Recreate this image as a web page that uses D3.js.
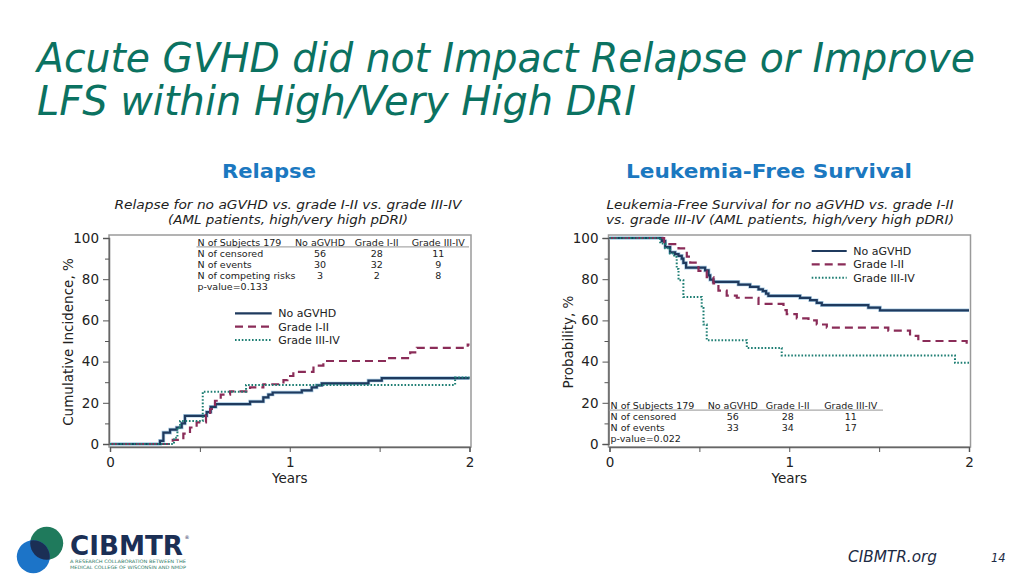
<!DOCTYPE html>
<html>
<head>
<meta charset="utf-8">
<script src="https://cdn.jsdelivr.net/npm/d3@7"></script>
<style>
body { margin: 0; background: #fff; }
text { font-family: "DejaVu Sans", Verdana, sans-serif; }
</style>
</head>
<body>
<svg id="slide" width="1027" height="580"></svg>
<script>
// ---- data ----
var groups = ["No aGVHD", "Grade I-II", "Grade III-IV"];

// relapse, cumulative incidence %
var relNoT  = [0, 0.278, 0.297, 0.334, 0.371, 0.399, 0.417, 0.538, 0.560, 0.588, 0.779, 0.853, 0.881, 0.905, 1.067, 1.122, 1.150, 1.178, 1.438, 1.512, 2.0];
var relNoV  = [0, 1.5, 5.5, 7, 8, 10, 13.7, 15.5, 18, 19.4, 20.6, 22.6, 24, 25, 26, 27.5, 28.5, 29.4, 30.8, 32, 32];
var relG12T = [0, 0.349, 0.408, 0.445, 0.482, 0.534, 0.557, 0.584, 0.616, 0.668, 0.779, 0.853, 0.965, 0.987, 1.020, 1.132, 1.187, 1.540, 1.670, 1.707, 1.990, 2.0];
var relG12V = [0, 2, 5, 8, 10.5, 14, 17, 21, 24, 25.5, 27.5, 29, 31, 33, 35, 38, 40.3, 41.7, 44.5, 46.7, 48.2, 48.2];
var relG34T = [0, 0.356, 0.375, 0.390, 0.516, 0.757, 1.920, 2.0];
var relG34V = [0, 3, 8, 11.2, 25.4, 28.7, 32.3, 32.3];

// leukemia-free survival, probability %
var lfsNoT  = [0, 0.291, 0.310, 0.337, 0.365, 0.384, 0.402, 0.411, 0.426, 0.532, 0.551, 0.560, 0.578, 0.717, 0.782, 0.829, 0.853, 0.871, 0.884, 1.060, 1.116, 1.153, 1.181, 1.440, 1.505, 2.0];
var lfsNoV  = [100, 98.5, 95.6, 93, 92.2, 91.3, 90, 87.9, 85.6, 84.3, 81.9, 79.8, 78.7, 77.4, 76.3, 75.1, 74.2, 73, 71.9, 70.9, 69.8, 68.5, 67.4, 66.2, 64.9, 64.9];
var lfsG12T = [0, 0.304, 0.384, 0.430, 0.449, 0.495, 0.541, 0.578, 0.606, 0.652, 0.708, 0.829, 0.968, 0.986, 1.042, 1.107, 1.153, 1.209, 1.551, 1.672, 1.718, 1.987, 2.0];
var lfsG12V = [100, 97, 95, 91, 88, 84, 81, 78, 74.5, 72, 71, 68, 65, 63, 61, 60, 58, 56.5, 55, 52.5, 50, 48, 48];
var lfsG34T = [0, 0.282, 0.310, 0.337, 0.360, 0.374, 0.384, 0.411, 0.513, 0.523, 0.541, 0.764, 0.958, 1.922, 2.0];
var lfsG34V = [100, 97.3, 95, 92.5, 90.8, 85, 79.5, 71.4, 66, 58, 50.4, 46.6, 43, 39.4, 39.4];

var xTicks = [0, 1, 2];
var xMinor = [0.5, 1.5];
var yTicks = [0, 20, 40, 60, 80, 100];
var yMinor = [10, 30, 50, 70, 90];

var relTableHead = ["N of Subjects 179", "No aGVHD", "Grade I-II", "Grade III-IV"];
var relTableRows = [["N of censored", "56", "28", "11"],
                    ["N of events", "30", "32", "9"],
                    ["N of competing risks", "3", "2", "8"],
                    ["p-value=0.133", "", "", ""]];
var lfsTableHead = ["N of Subjects 179", "No aGVHD", "Grade I-II", "Grade III-IV"];
var lfsTableRows = [["N of censored", "56", "28", "11"],
                    ["N of events", "33", "34", "17"],
                    ["p-value=0.022", "", "", ""]];

var styles = [{col: "#1f3a5e", dash: null, w: 2.2},
              {col: "#8a2c58", dash: "8,5", w: 2.2},
              {col: "#1c7d72", dash: "1.6,1.8", w: 2}];

function zip(ts, vs) {
    return ts.map(function(t, i) { return {x: t, y: vs[i]}; });
}

var svg = d3.select("#slide");

// ---- slide header ----
function fitText(sel, w) {
    return sel.attr("textLength", w).attr("lengthAdjust", "spacingAndGlyphs");
}
fitText(svg.append("text").attr("x", 37).attr("y", 72)
    .style("font-size", "40px").style("font-style", "italic").style("fill", "#0b7261")
    .text("Acute GVHD did not Impact Relapse or Improve"), 938);
fitText(svg.append("text").attr("x", 37).attr("y", 115)
    .style("font-size", "40px").style("font-style", "italic").style("fill", "#0b7261")
    .text("LFS within High/Very High DRI"), 599);

fitText(svg.append("text").attr("x", 222).attr("y", 178)
    .style("font-size", "19px").style("font-weight", "bold").style("fill", "#1b78c0")
    .text("Relapse"), 94);
fitText(svg.append("text").attr("x", 626).attr("y", 178)
    .style("font-size", "19px").style("font-weight", "bold").style("fill", "#1b78c0")
    .text("Leukemia-Free Survival"), 286);

// ---- one panel ----
function draw_panel(p) {
    var x = d3.scaleLinear().domain([0, 2]).range([p.left, p.left + 359.5]);
    var y = d3.scaleLinear().domain([0, 100]).range([444, 238]);
    var g = svg.append("g");

    // title
    p.title.forEach(function(t, i) {
        fitText(g.append("text").attr("x", p.titleX).attr("y", 209 + i * 15)
            .attr("text-anchor", "middle")
            .style("font-size", "12.5px").style("font-style", "italic").style("fill", "#222")
            .text(t.s), t.w);
    });

    // frame
    g.append("rect").attr("x", p.left - 1).attr("y", 235)
        .attr("width", 362).attr("height", 212)
        .style("fill", "none").style("stroke", "#9a9a9a").style("stroke-width", 1.5);

    // axes
    g.append("g").attr("transform", "translate(" + (p.left - 1) + ",0)")
        .call(d3.axisLeft(y).tickValues(yTicks).tickSize(6).tickPadding(4));
    g.append("g").attr("transform", "translate(" + (p.left - 1) + ",0)")
        .call(d3.axisLeft(y).tickValues(yMinor).tickSize(4).tickFormat(""))
        .select(".domain").remove();
    g.append("g").attr("transform", "translate(0,447)")
        .call(d3.axisBottom(x).tickValues(xTicks).tickSize(5).tickPadding(5).tickFormat(d3.format("d")));
    g.append("g").attr("transform", "translate(0,447)")
        .call(d3.axisBottom(x).tickValues(xMinor).tickSize(5).tickFormat(""))
        .select(".domain").remove();
    g.selectAll(".domain").style("stroke", "#666").style("stroke-width", 1.5);
    g.selectAll(".tick line").style("stroke", "#555");
    g.selectAll(".tick text").style("font-size", "13.5px").style("fill", "#222")
        .style("font-family", "'DejaVu Sans', Verdana, sans-serif");

    g.append("text").attr("x", x(1)).attr("y", 483).attr("text-anchor", "middle")
        .style("font-size", "13.5px").style("fill", "#222").text("Years");
    g.append("text").attr("transform", "translate(" + (p.left - 37) + "," + 342 + ") rotate(-90)")
        .attr("text-anchor", "middle").style("font-size", "13.5px").style("fill", "#222")
        .text(p.yLabel);

    // table
    var tb = g.append("g").style("font-size", "9.5px").style("fill", "#222");
    tb.append("line").attr("x1", p.tabX - 1).attr("x2", p.tabEnd)
        .attr("y1", p.tabY + 4.5).attr("y2", p.tabY + 4.5)
        .style("stroke", "#aaa").style("stroke-width", 1.2);
    [p.head].concat(p.rows).forEach(function(r, i) {
        r.forEach(function(s, j) {
            tb.append("text")
                .attr("x", j == 0 ? p.tabX : p.tabCols[j - 1])
                .attr("y", p.tabY + 3.2 + i * 11.1)
                .attr("text-anchor", j == 0 ? "start" : "middle")
                .text(s);
        });
    });

    // curves
    var line = d3.line().x(function(d) { return x(d.x); })
        .y(function(d) { return y(d.y); }).curve(d3.curveStepAfter);
    p.series.forEach(function(s, i) {
        var st = styles[i];
        if (i == 0) {
            g.append("path").attr("d", line(zip(s.t, s.v)))
                .style("fill", "none").style("stroke", "#a9cbe3").style("stroke-width", 3.6);
        }
        g.append("path").attr("d", line(zip(s.t, s.v)))
            .style("fill", "none").style("stroke", st.col)
            .style("stroke-width", st.w).style("stroke-dasharray", st.dash);
    });

    // legend
    var lg = g.append("g");
    groups.forEach(function(name, i) {
        var st = styles[i];
        var ly = p.legY + i * 13.4;
        lg.append("line").attr("x1", p.legX).attr("x2", p.legX + p.legW)
            .attr("y1", ly).attr("y2", ly)
            .style("stroke", st.col).style("stroke-width", st.w).style("stroke-dasharray", st.dash);
        lg.append("text").attr("x", p.legX + p.legW + 6.5).attr("y", ly + 4)
            .style("font-size", "11px").style("fill", "#222").text(name);
    });
}

draw_panel({
    left: 110, titleX: 288,
    title: [{s: "Relapse for no aGVHD vs. grade I-II vs. grade III-IV", w: 347},
            {s: "(AML patients, high/very high pDRI)", w: 240}],
    yLabel: "Cumulative Incidence, %",
    head: relTableHead, rows: relTableRows,
    tabX: 197.5, tabY: 242.3, tabEnd: 469, tabCols: [320, 376.7, 438.3],
    legX: 235, legW: 36.7, legY: 313.3,
    series: [{t: relNoT, v: relNoV}, {t: relG12T, v: relG12V}, {t: relG34T, v: relG34V}]
});

draw_panel({
    left: 609.5, titleX: 780,
    title: [{s: "Leukemia-Free Survival for no aGVHD vs. grade I-II", w: 347},
            {s: "vs. grade III-IV (AML patients, high/very high pDRI)", w: 348}],
    yLabel: "Probability, %",
    head: lfsTableHead, rows: lfsTableRows,
    tabX: 610.5, tabY: 405.7, tabEnd: 883, tabCols: [732.7, 787.7, 850.7],
    legX: 811.7, legW: 35, legY: 251,
    series: [{t: lfsNoT, v: lfsNoV}, {t: lfsG12T, v: lfsG12V}, {t: lfsG34T, v: lfsG34V}]
});

// ---- footer: logo, site, page number ----
var defs = svg.append("defs");
defs.append("clipPath").attr("id", "greenClip")
    .append("circle").attr("cx", 46.7).attr("cy", 543.3).attr("r", 16.5);
svg.append("circle").attr("cx", 46.7).attr("cy", 543.3).attr("r", 16.5).style("fill", "#1f7a5c");
svg.append("circle").attr("cx", 33.3).attr("cy", 556.7).attr("r", 16.5).style("fill", "#1c74c8");
svg.append("circle").attr("cx", 33.3).attr("cy", 556.7).attr("r", 16.5)
    .attr("clip-path", "url(#greenClip)").style("fill", "#1b2f55");
fitText(svg.append("text").attr("x", 70).attr("y", 555)
    .style("font-size", "27px").style("font-weight", "bold").style("fill", "#1b2f55")
    .text("CIBMTR"), 113);
svg.append("text").attr("x", 184.5).attr("y", 539).style("font-size", "5px").style("fill", "#1b2f55").text("®");
fitText(svg.append("text").attr("x", 70).attr("y", 563)
    .style("font-size", "4.6px").style("fill", "#2e7a66")
    .text("A RESEARCH COLLABORATION BETWEEN THE"), 116);
fitText(svg.append("text").attr("x", 70).attr("y", 569)
    .style("font-size", "4.6px").style("fill", "#2e7a66")
    .text("MEDICAL COLLEGE OF WISCONSIN AND NMDP"), 116);

fitText(svg.append("text").attr("x", 848).attr("y", 562)
    .style("font-size", "15px").style("font-style", "italic").style("fill", "#1c2a44")
    .text("CIBMTR.org"), 89);
svg.append("text").attr("x", 991).attr("y", 562)
    .style("font-size", "11.5px").style("font-style", "italic").style("fill", "#1c2a44")
    .text("14");
</script>
</body>
</html>
